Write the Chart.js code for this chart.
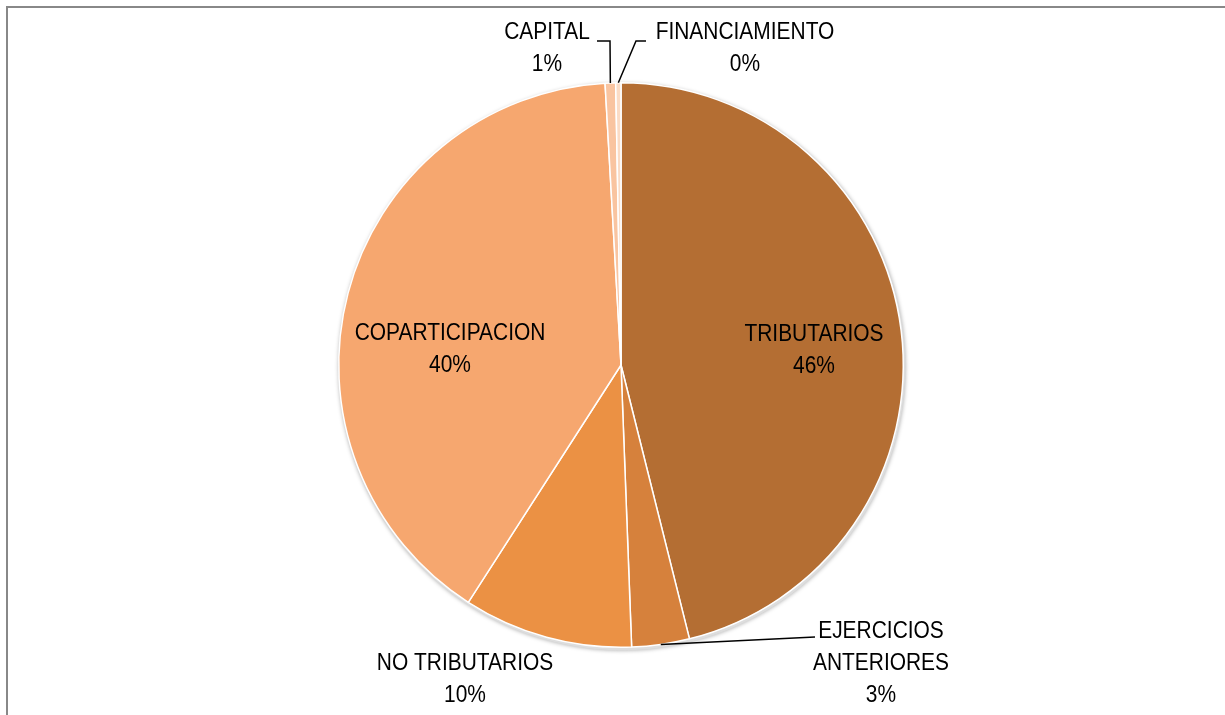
<!DOCTYPE html>
<html>
<head>
<meta charset="utf-8">
<script src="https://cdn.jsdelivr.net/npm/chart.js@4"></script>
<style>
  html, body { margin: 0; padding: 0; background: #fff; }
  #wrap { position: relative; width: 1225px; height: 715px; }
  #frame { position: absolute; left: 6px; top: 6px; width: 1225px; height: 715px; border-left: 2px solid #888; border-top: 2px solid #888; box-sizing: border-box; }
  canvas { position: absolute; left: 0; top: 0; }
</style>
</head>
<body>
<div id="wrap">
  <div id="frame"></div>
  <canvas id="pieChart" width="1225" height="715"></canvas>
</div>
<script>
// datos del gráfico (porcentaje de ingresos)
const categorias = ['TRIBUTARIOS', 'EJERCICIOS ANTERIORES', 'NO TRIBUTARIOS', 'COPARTICIPACION', 'CAPITAL', 'FINANCIAMIENTO'];
const valores = [46.1, 3.3, 9.7, 40.0, 0.6, 0.3];
const colores = ['#B46E33', '#D6813C', '#EB9144', '#F6A76F', '#F9C4A0', '#FBDCC6'];

const FONT = '23px "Liberation Sans", Arial, sans-serif';
const CONDENSE = 0.91; // el original usa una fuente angosta

// posiciones de etiquetas (texto) y quiebre de las líneas guía
const etiquetas = [
    { lines: ['TRIBUTARIOS'], x: 814, y: 335 },
    { lines: ['EJERCICIOS', 'ANTERIORES'], x: 881, y: 632, leader: { from: [815, 637] } },
    { lines: ['NO TRIBUTARIOS'], x: 465, y: 664 },
    { lines: ['COPARTICIPACION'], x: 450, y: 334 },
    { lines: ['CAPITAL'], x: 547, y: 33, leader: { from: [597, 41], via: [610, 41] } },
    { lines: ['FINANCIAMIENTO'], x: 745, y: 33, leader: { from: [646, 41], via: [636, 41] } }
];

const total = valores.reduce((a, b) => a + b, 0);

const labelPlugin = {
    id: 'labelPlugin',
    afterDatasetsDraw(chart) {
        const ctx = chart.ctx;
        const arcs = chart.getDatasetMeta(0).data;
        etiquetas.forEach((et, i) => {
            const pct = Math.round(valores[i] / total * 100) + '%';
            const lines = et.lines.concat([pct]);
            ctx.save();
            ctx.font = FONT;
            ctx.fillStyle = '#000';
            ctx.textAlign = 'center';
            ctx.textBaseline = 'middle';
            ctx.translate(et.x, et.y);
            ctx.scale(CONDENSE, 1);
            lines.forEach((t, k) => ctx.fillText(t, 0, k * 32));
            ctx.restore();
            if (et.leader) {
                const a = arcs[i];
                const mid = (a.startAngle + a.endAngle) / 2;
                const px = a.x + Math.cos(mid) * a.outerRadius;
                const py = a.y + Math.sin(mid) * a.outerRadius;
                ctx.save();
                ctx.beginPath();
                ctx.strokeStyle = '#000';
                ctx.lineWidth = 1.5;
                ctx.moveTo(et.leader.from[0], et.leader.from[1]);
                if (et.leader.via) ctx.lineTo(et.leader.via[0], et.leader.via[1]);
                ctx.lineTo(px, py);
                ctx.stroke();
                ctx.restore();
            }
        });
    }
};

const shadowPlugin = {
    id: 'shadowPlugin',
    beforeDatasetsDraw(chart) {
        const a = chart.getDatasetMeta(0).data[0];
        const ctx = chart.ctx;
        ctx.save();
        ctx.beginPath();
        ctx.arc(a.x + 1, a.y + 2, a.outerRadius + 1, 0, Math.PI * 2);
        ctx.shadowColor = 'rgba(0,0,0,0.35)';
        ctx.shadowBlur = 4;
        ctx.fillStyle = '#ddd';
        ctx.fill();
        ctx.restore();
    }
};

window.onload = function () {
    const ctxPie = document.getElementById('pieChart').getContext('2d');
    new Chart(ctxPie, {
        type: 'pie',
        data: {
            labels: categorias,
            datasets: [{
                data: valores,
                backgroundColor: colores,
                borderColor: '#ffffff',
                borderWidth: 1.5
            }]
        },
        options: {
            responsive: false,
            animation: false,
            layout: { padding: { top: 82, bottom: 67, left: 17, right: 0 } },
            plugins: {
                legend: { display: false },
                tooltip: { enabled: false }
            }
        },
        plugins: [shadowPlugin, labelPlugin]
    });
};
</script>
</body>
</html>
